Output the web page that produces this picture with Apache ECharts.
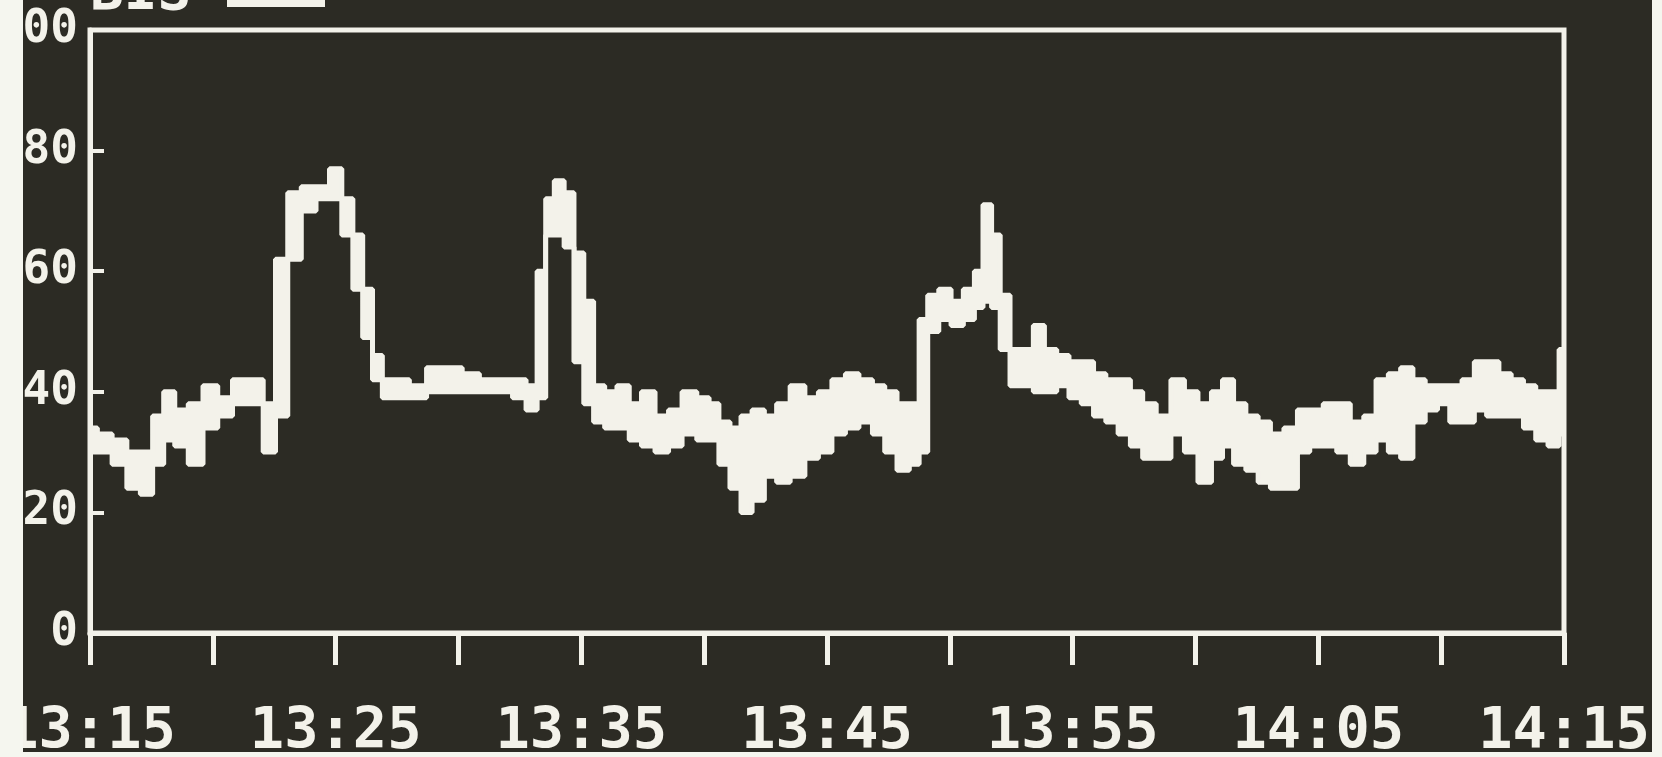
<!DOCTYPE html>
<html>
<head>
<meta charset="utf-8">
<title>BIS</title>
<script src="https://cdn.jsdelivr.net/npm/echarts@6/dist/echarts.min.js"></script>
<style>
  html, body { margin: 0; padding: 0; background: #f5f6ef; }
  #bis { width: 1662px; height: 757px; }
</style>
</head>
<body>
<div id="bis"></div>
<script>
// minutes after 13:15 (irregular spacing)
var bisMinute = [
  0.0, 0.6, 1.2, 1.8, 2.3, 2.8, 3.2, 3.7, 4.3, 4.9, 5.5, 6.1, 6.8, 7.3, 7.8,
  8.3, 8.9, 9.5, 10.0, 10.5, 10.9, 11.3, 11.7, 12.1, 12.6, 13.4, 14.0, 14.8,
  15.5, 16.2, 16.9, 17.5, 18.0, 18.4, 18.7, 19.1, 19.5, 19.9, 20.3, 20.7,
  21.2, 21.7, 22.2, 22.7, 23.3, 23.8, 24.4, 25.0, 25.4, 25.8, 26.3, 26.7,
  27.2, 27.7, 28.2, 28.8, 29.4, 29.9, 30.5, 31.0, 31.6, 32.1, 32.6, 33.1,
  33.6, 33.9, 34.3, 34.8, 35.3, 35.8, 36.2, 36.5, 36.9, 37.2, 37.7, 38.2,
  38.6, 39.1, 39.6, 40.1, 40.6, 41.1, 41.6, 42.1, 42.6, 43.1, 43.7, 44.3,
  44.8, 45.4, 45.9, 46.3, 46.8, 47.3, 47.8, 48.3, 48.9, 49.4, 49.9, 50.5,
  51.0, 51.6, 52.1, 52.6, 53.1, 53.6, 54.1, 54.6, 55.1, 55.6, 56.1, 56.6,
  57.1, 57.6, 58.1, 58.6, 59.1, 59.6, 60.0
];
// upper edge of the trace
var bisHigh = [
  34, 33, 32, 30, 30, 36, 40, 37, 38, 41, 39, 42, 42, 38, 62,
  73, 74, 74, 77, 72, 66, 57, 46, 42, 42, 41, 44, 44,
  43, 42, 42, 42, 41, 60, 72, 75, 73, 63, 55, 41,
  40, 41, 38, 40, 36, 37, 40, 39, 38, 35, 34, 36,
  37, 36, 38, 41, 39, 40, 42, 43, 42, 41, 40, 38,
  38, 52, 56, 57, 55, 57, 60, 71, 66, 56, 47, 47,
  51, 47, 46, 45, 45, 43, 42, 42, 40, 38, 36, 42,
  40, 38, 40, 42, 38, 36, 35, 33, 34, 37, 37, 38,
  38, 35, 36, 42, 43, 44, 42, 41, 41, 41, 42, 45,
  45, 43, 42, 41, 40, 40, 47
];
// lower edge of the trace
var bisLow = [
  30, 30, 28, 24, 23, 28, 32, 31, 28, 34, 36, 38, 38, 30, 36,
  62, 70, 72, 72, 66, 57, 49, 42, 39, 39, 39, 40, 40,
  40, 40, 40, 39, 37, 39, 66, 66, 64, 45, 38, 35,
  34, 34, 32, 31, 30, 31, 33, 32, 32, 28, 24, 20,
  22, 26, 25, 26, 29, 30, 33, 34, 35, 33, 30, 27,
  28, 30, 50, 52, 51, 52, 54, 55, 54, 47, 41, 41,
  40, 40, 41, 39, 38, 36, 35, 33, 31, 29, 29, 33,
  30, 25, 29, 31, 28, 27, 25, 24, 24, 30, 31, 31,
  30, 28, 30, 32, 30, 29, 35, 37, 38, 35, 35, 37,
  36, 36, 36, 34, 32, 31, 33
];
var timeLabels = ['13:15', '13:25', '13:35', '13:45', '13:55', '14:05', '14:15'];
var yTicks = [0, 20, 40, 60, 80, 100];

var highPairs = bisMinute.map(function (m, i) { return [m, bisHigh[i]]; });
var lowPairs = bisMinute.map(function (m, i) { return [m, bisLow[i]]; });

var ink = '#f3f2ea';
var screen = '#2c2b24';
var paper = '#f5f6ef';
var font = 'DejaVu Sans Mono';

var myChart = echarts.init(document.getElementById('bis'));
var option = {
    backgroundColor: screen,
    animation: false,
    grid: {
        left: 90,
        right: 98,
        top: 30,
        bottom: 124,
        outerBoundsMode: 'none',
        containLabel: false,
        show: true,
        z: 10,
        borderColor: ink,
        borderWidth: 5
    },
    xAxis: {
        type: 'value',
        z: 10,
        min: 0,
        max: 60,
        interval: 5,
        axisLine: { lineStyle: { color: ink, width: 5 } },
        axisTick: { show: true, length: 32, lineStyle: { color: ink, width: 5 } },
        splitLine: { show: false },
        axisLabel: {
            color: ink,
            fontFamily: font,
            fontWeight: 'bold',
            fontSize: 57,
            margin: 72,
            showMinLabel: true,
            showMaxLabel: true,
            formatter: function (v) {
                return v % 10 === 0 ? timeLabels[v / 10] : '';
            }
        }
    },
    yAxis: {
        type: 'value',
        z: 10,
        min: yTicks[0],
        max: yTicks[yTicks.length - 1],
        interval: 20,
        axisLine: { show: true, lineStyle: { color: ink, width: 5 } },
        axisTick: { show: true, inside: true, length: 14, lineStyle: { color: ink, width: 4 } },
        splitLine: { show: false },
        axisLabel: {
            color: ink,
            fontFamily: font,
            fontWeight: 'bold',
            fontSize: 46,
            margin: 12
        }
    },
    graphic: [
        // legend label, cut by the top of the photo
        { type: 'text', left: 90, top: -34, z: 50,
          style: { text: 'BIS', fill: ink, font: 'bold 56px "DejaVu Sans Mono"' } },
        { type: 'rect', shape: { x: 227, y: 0, width: 98, height: 7 }, z: 50,
          style: { fill: ink } },
        // paper margins around the photographed screen
        { type: 'rect', shape: { x: 0, y: 0, width: 23, height: 757 }, z: 100, style: { fill: paper } },
        { type: 'rect', shape: { x: 1652, y: 0, width: 10, height: 757 }, z: 100, style: { fill: paper } },
        { type: 'rect', shape: { x: 0, y: 752, width: 1662, height: 5 }, z: 100, style: { fill: paper } }
    ],
    series: [{
        // upper edge, filled down
        name: 'BIS',
        type: 'line',
        z: 2,
        step: 'middle',
        symbol: 'none',
        lineStyle: { color: ink, width: 5 },
        areaStyle: { color: ink, opacity: 1 },
        data: highPairs
    }, {
        // lower edge, screen colour fills below it so only the band stays white
        name: 'low',
        type: 'line',
        z: 3,
        step: 'middle',
        symbol: 'none',
        lineStyle: { color: ink, width: 5 },
        areaStyle: { color: screen, opacity: 1 },
        data: lowPairs
    }]
};
myChart.setOption(option);
</script>
</body>
</html>
